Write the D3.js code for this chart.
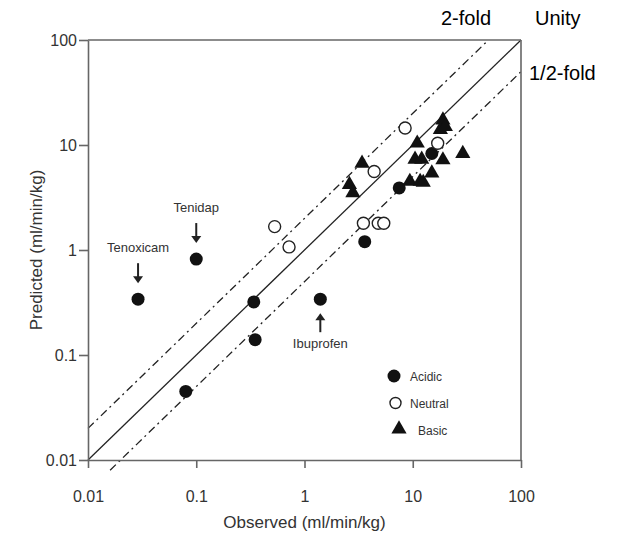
<!DOCTYPE html>
<html>
<head>
<meta charset="utf-8">
<script src="https://cdn.jsdelivr.net/npm/d3@7"></script>
<style>
  body { margin: 0; background: #fff; }
  text { font-family: Arial, "Liberation Sans", sans-serif; }
</style>
</head>
<body>
<script>
// observed vs predicted clearance
var acidicObs  = [0.029, 0.1, 0.34, 0.35, 1.4, 0.08, 3.6, 7.5, 15];
var acidicPred = [0.34, 0.82, 0.32, 0.14, 0.34, 0.045, 1.2, 3.9, 8.3];

var neutralObs  = [8.5, 17, 4.4, 3.5, 4.8, 5.4, 0.53, 0.72];
var neutralPred = [14.5, 10.4, 5.6, 1.8, 1.8, 1.8, 1.67, 1.07];

var basicObs  = [19, 18, 20, 11, 10.5, 12.1, 19, 29, 3.4, 15, 9.4, 11.7, 12.5, 2.6, 2.8];
var basicPred = [17.3, 14, 15, 10.4, 7.3, 7.3, 7.2, 8.3, 6.7, 5.4, 4.5, 4.5, 4.4, 4.2, 3.5];

var tickValues = [0.01, 0.1, 1, 10, 100];
var tickLabels = ["0.01", "0.1", "1", "10", "100"];

var drugNames = ["Tenoxicam", "Tenidap", "Ibuprofen"];
var drugObs   = [0.029, 0.1, 1.4];
var drugPred  = [0.34, 0.82, 0.34];

var legendNames = ["Acidic", "Neutral", "Basic"];

var W = 631, H = 535;
// note: "top" is taken by window.top, so use pl/pr/pt/pb
var pl = 88, pr = 521, pt = 40, pb = 460;

var x = d3.scaleLog().domain([0.01, 100]).range([pl, pr]);
var y = d3.scaleLog().domain([0.01, 100]).range([pb, pt]);

var svg = d3.select("body").append("svg")
    .attr("width", W)
    .attr("height", H);

// fold lines
var line = d3.line()
    .x(function(d){ return x(d[0]); })
    .y(function(d){ return y(d[1]); });

var foldLines = [
  { pts: [[0.01, 0.01], [100, 100]], dash: null },
  { pts: [[0.01, 0.02], [50, 100]], dash: "8,4,2,4" },
  { pts: [[0.016, 0.008], [100, 50]], dash: "8,4,2,4" }
];

svg.selectAll("path.fold")
  .data(foldLines)
  .enter().append("path")
    .attr("class", "fold")
    .attr("d", function(d){ return line(d.pts); })
    .attr("fill", "none")
    .attr("stroke", "#222")
    .attr("stroke-width", 1.3)
    .attr("stroke-dasharray", function(d){ return d.dash; });

// axes
var xAxis = d3.axisBottom(x)
    .tickValues(tickValues)
    .tickFormat(function(d, i){ return tickLabels[i]; })
    .tickSizeInner(8).tickSizeOuter(0)
    .tickPadding(23);

var yAxis = d3.axisLeft(y)
    .tickValues(tickValues)
    .tickFormat(function(d, i){ return tickLabels[i]; })
    .tickSizeInner(9).tickSizeOuter(0)
    .tickPadding(2);

var gx = svg.append("g")
    .attr("transform", "translate(0," + pb + ")")
    .call(xAxis);
var gy = svg.append("g")
    .attr("transform", "translate(" + pl + ",0)")
    .call(yAxis);

[gx, gy].forEach(function(g){
  g.select(".domain").attr("stroke", "#666").attr("stroke-width", 1.6);
  g.selectAll(".tick line").attr("stroke", "#666").attr("stroke-width", 1.6);
  g.selectAll(".tick text").attr("fill", "#333").style("font-size", "16px");
});

// top + right frame
svg.append("line")
    .attr("x1", pl).attr("x2", pr).attr("y1", pt).attr("y2", pt)
    .attr("stroke", "#666").attr("stroke-width", 1.6);
svg.append("line")
    .attr("x1", pr).attr("x2", pr).attr("y1", pt).attr("y2", pb)
    .attr("stroke", "#666").attr("stroke-width", 1.6);

// axis titles
svg.append("text")
    .attr("x", (pl + pr) / 2)
    .attr("y", 528)
    .attr("text-anchor", "middle")
    .attr("fill", "#333")
    .style("font-size", "17px")
    .text("Observed (ml/min/kg)");

svg.append("text")
    .attr("transform", "translate(42," + (pb + pt) / 2 + ") rotate(-90)")
    .attr("text-anchor", "middle")
    .attr("fill", "#333")
    .style("font-size", "17px")
    .text("Predicted (ml/min/kg)");

// line labels
svg.append("text").attr("x", 441).attr("y", 25).style("font-size", "20px").text("2-fold");
svg.append("text").attr("x", 535).attr("y", 25).style("font-size", "20px").text("Unity");
svg.append("text").attr("x", 529).attr("y", 80).style("font-size", "20px").text("1/2-fold");

// points
var acidic = acidicObs.map(function(d, i){ return [d, acidicPred[i]]; });
var neutral = neutralObs.map(function(d, i){ return [d, neutralPred[i]]; });
var basic = basicObs.map(function(d, i){ return [d, basicPred[i]]; });

svg.selectAll("circle.acidic")
  .data(acidic)
  .enter().append("circle")
    .attr("class", "acidic")
    .attr("cx", function(d){ return x(d[0]); })
    .attr("cy", function(d){ return y(d[1]); })
    .attr("r", 6.5)
    .attr("fill", "#111");

svg.selectAll("circle.neutral")
  .data(neutral)
  .enter().append("circle")
    .attr("class", "neutral")
    .attr("cx", function(d){ return x(d[0]); })
    .attr("cy", function(d){ return y(d[1]); })
    .attr("r", 6)
    .attr("fill", "#fff")
    .attr("stroke", "#222")
    .attr("stroke-width", 1.4);

var tri = d3.symbol().type(d3.symbolTriangle).size(100);

svg.selectAll("path.basic")
  .data(basic)
  .enter().append("path")
    .attr("class", "basic")
    .attr("d", tri)
    .attr("transform", function(d){ return "translate(" + x(d[0]) + "," + y(d[1]) + ")"; })
    .attr("fill", "#111");

// drug annotations (arrow above for first two, below for ibuprofen)
drugNames.forEach(function(name, i){
  var px = x(drugObs[i]), py = y(drugPred[i]);
  var below = name === "Ibuprofen";
  var y1 = below ? py + 33 : py - 36;
  var y2 = below ? py + 14 : py - 16;
  svg.append("line")
      .attr("x1", px).attr("x2", px)
      .attr("y1", y1).attr("y2", y2 + (below ? 4 : -4))
      .attr("stroke", "#222").attr("stroke-width", 2);
  var hd = below ? -1 : 1;
  svg.append("path")
      .attr("d", "M" + (px - 5) + "," + (y2 - 7 * hd) + "L" + px + "," + y2 + "L" + (px + 5) + "," + (y2 - 7 * hd) + "Z")
      .attr("fill", "#222");
  svg.append("text")
      .attr("x", px)
      .attr("y", below ? py + 49 : py - 47)
      .attr("text-anchor", "middle")
      .attr("fill", "#333")
      .style("font-size", "13px")
      .text(name);
});

// legend
var lx = 394, ly = [376, 403, 430];
svg.append("circle").attr("cx", lx).attr("cy", ly[0]).attr("r", 6.5).attr("fill", "#111");
svg.append("circle").attr("cx", lx + 1.5).attr("cy", ly[1]).attr("r", 5.5)
    .attr("fill", "#fff").attr("stroke", "#222").attr("stroke-width", 1.4);
svg.append("path").attr("d", tri)
    .attr("transform", "translate(" + (lx + 5) + "," + (ly[2] - 1) + ")")
    .attr("fill", "#111");

svg.selectAll("text.legend")
  .data(legendNames)
  .enter().append("text")
    .attr("class", "legend")
    .attr("x", function(d, i){ return i == 2 ? 418 : 410; })
    .attr("y", function(d, i){ return ly[i] + 4.5; })
    .attr("fill", "#333")
    .style("font-size", "12px")
    .text(function(d){ return d; });
</script>
</body>
</html>
